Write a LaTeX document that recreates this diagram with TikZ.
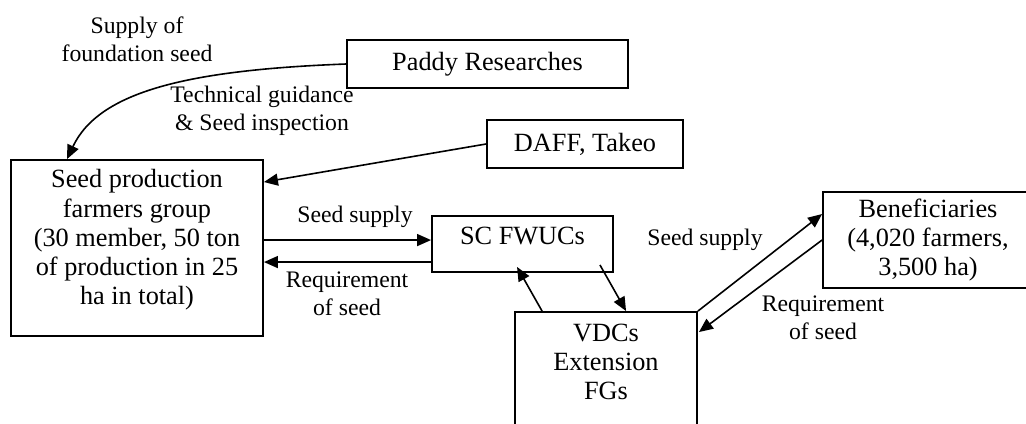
\documentclass[tikz,border=0pt]{standalone}
\usepackage{fontspec}
\setmainfont{Liberation Serif}
\usetikzlibrary{arrows.meta,calc}
\begin{document}
\begin{tikzpicture}[x=0.5pt,y=-0.5pt,
  frame/.style={draw,line width=0.95pt,inner sep=0pt},
  boxtext/.style={font=\fontsize{13.15}{14.6}\selectfont,align=center,inner sep=0pt},
  lbl/.style={font=\fontsize{11.85}{14}\selectfont,align=center,inner sep=0pt},
  arr/.style={line width=0.8pt,-{Triangle[length=7pt,width=6pt]}}]

% canvas
\clip (0,0) rectangle (1026,423);
\fill[white] (0,0) rectangle (1026,423);

% boxes
\node[frame,boxtext,minimum width=140.5pt,minimum height=24pt] (pr) at (487.5,64) {Paddy Researches};
\node[frame,boxtext,minimum width=98pt,minimum height=24pt] (daff) at (585,144) {DAFF, Takeo};

\node[frame,minimum width=126pt,minimum height=88pt] (spf) at (137,248) {};
\node[boxtext] (spftext) at (137,240) {Seed production\\farmers group\\(30 member, 50 ton\\of production in 25\\ha in total)};

\node[frame,minimum width=90.5pt,minimum height=28pt] (sc) at (522.5,244) {};
\node[boxtext] (sctext) at (522.5,236) {SC FWUCs};

\node[frame,minimum width=91pt,minimum height=64pt] (vdc) at (606,376) {};
\node[boxtext] (vdctext) at (606,362) {VDCs\\Extension\\FGs};

\node[frame,boxtext,minimum width=105pt,minimum height=48pt] (ben) at (928,240) {Beneficiaries\\(4,020 farmers,\\3,500 ha)};

% connectors
\draw[arr] (pr.west) .. controls +(-157,6) and +(32,-68) .. ($(spf.north west)+(57,0)$);
\draw[arr] (daff.west) -- ($(spf.north east)+(0,23)$);
\draw[arr] ($(spf.north east)+(0,81)$) -- ($(sc.north west)+(0,25)$);
\draw[arr] ($(sc.north west)+(0,47)$) -- ($(spf.north east)+(0,103)$);
\draw[arr] ($(sc.south east)+(-14,-8)$) -- ($(vdc.north west)+(112,0)$);
\draw[arr] ($(vdc.north west)+(28,0)$) -- ($(sc.south west)+(86,-6)$);
\draw[arr] (vdc.north east) -- ($(ben.north west)+(0,23)$);
\draw[arr] ($(ben.north west)+(0,49)$) -- ($(vdc.north east)+(1,21)$);

% labels
\node[lbl] (l1) at (137,39) {Supply of\\foundation seed};
\node[lbl] (l2) at (262,111) {Technical guidance\\\& Seed inspection};
\node[lbl] (l3) at (355,217) {Seed supply};
\node[lbl] (l4) at (347,294) {Requirement\\of seed};
\node[lbl] (l5) at (705,240) {Seed supply};
\node[lbl] (l6) at (823,318) {Requirement\\of seed};
\end{tikzpicture}
\end{document}
